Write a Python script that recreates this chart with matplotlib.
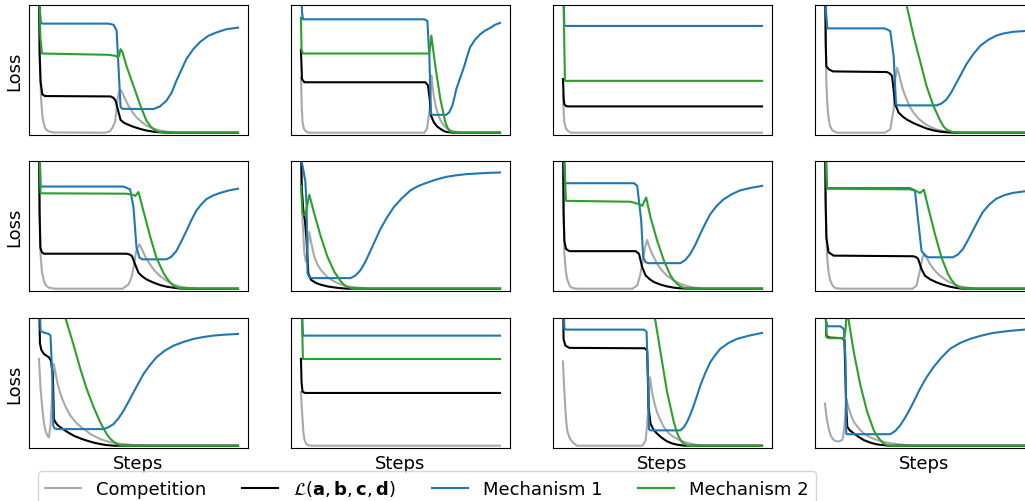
import matplotlib
matplotlib.use("Agg")
import matplotlib.pyplot as plt

# each curve: (step, loss) pairs, step 0..100, loss scaled so top of panel = 1

# panel 1
p1_comp = [(0, 1.3), (0.3, 0.8), (0.6, 0.5), (1, 0.29), (1.5, 0.17), (2, 0.1), (3, 0.04), (4, 0.02), (5, 0.01),
           (7, 0.002), (33, 0), (35.5, 0.01), (37, 0.04), (38.3, 0.09), (39.5, 0.263), (40.2, 0.32), (40.8, 0.336),
           (41.5, 0.325), (42.5, 0.29), (43.7, 0.25), (45, 0.21), (47, 0.16), (49, 0.12), (51.5, 0.085), (54, 0.055),
           (57.5, 0.032), (61, 0.016), (65, 0.006), (70, 0), (100, 0)]
p1_loss = [(0, 1.3), (0.3, 0.63), (0.8, 0.4), (1.7, 0.3), (3, 0.287), (36, 0.284), (37.5, 0.272), (38.5, 0.25),
           (40, 0.159), (41, 0.1), (42.5, 0.08), (44, 0.068), (47.5, 0.046), (51, 0.029), (54, 0.017), (57.5, 0.008),
           (61, 0.003), (65, 0), (100, 0)]
p1_mech1 = [(0, 1.3), (0.5, 0.95), (1, 0.86), (2, 0.854), (35, 0.854), (37.5, 0.845), (39, 0.8), (40, 0.5), (41, 0.2),
            (42, 0.187), (57.5, 0.185), (60.8, 0.206), (64, 0.25), (66.7, 0.315), (69, 0.406), (71.7, 0.497),
            (74, 0.575), (77.5, 0.654), (81, 0.711), (85, 0.758), (89, 0.784), (94, 0.81), (100, 0.823)]
p1_mech2 = [(0, 1.3), (0.7, 0.75), (1.5, 0.62), (35, 0.61), (39, 0.6), (39.5, 0.588), (40.2, 0.6), (41, 0.654),
            (42, 0.63), (44, 0.52), (47.5, 0.367), (51, 0.21), (54, 0.094), (56, 0.05), (57.5, 0.03), (59, 0.014),
            (61, 0.005), (65, 0), (100, 0)]

# panel 2
p2_comp = [(0, 0.43), (0.4, 0.2), (0.8, 0.083), (1.5, 0.03), (2.5, 0.01), (4, 0), (62, 0), (63.3, 0.03),
           (64.7, 0.187), (65.5, 0.447), (66, 0.38), (66.7, 0.29), (67.8, 0.2), (69, 0.135), (70.7, 0.08),
           (72.5, 0.044), (74.5, 0.022), (76.7, 0.01), (80, 0), (100, 0)]
p2_loss = [(0, 0.65), (0.5, 0.42), (1.7, 0.395), (62.5, 0.395), (63.8, 0.37), (64.7, 0.26), (65.3, 0.135),
           (66.7, 0.083), (68.3, 0.05), (70, 0.03), (71.7, 0.014), (73.3, 0.005), (77, 0), (100, 0)]
p2_mech1 = [(0, 1.3), (0.5, 0.95), (1, 0.888), (62, 0.888), (63.5, 0.875), (64.5, 0.6), (65.3, 0.148), (66, 0.14),
            (73, 0.14), (74.5, 0.16), (76, 0.21), (77, 0.27), (78, 0.34), (80, 0.43), (82, 0.52), (83.5, 0.6),
            (85, 0.67), (87.5, 0.73), (90, 0.77), (92.5, 0.8), (95, 0.82), (97.5, 0.845), (100, 0.86)]
p2_mech2 = [(0, 0.9), (0.3, 0.65), (1, 0.62), (64.5, 0.62), (65.5, 0.76), (67.5, 0.52), (70, 0.265), (72.5, 0.083),
            (73.7, 0.035), (75, 0.01), (78, 0), (100, 0)]

# panel 3
p3_comp = [(0, 0.3), (0.4, 0.15), (0.7, 0.08), (1.5, 0.035), (2.3, 0.016), (4, 0.0), (100, 0)]
p3_loss = [(0, 0.42), (0.4, 0.26), (0.7, 0.224), (1.3, 0.211), (2.3, 0.206), (100, 0.206)]
p3_mech1 = [(0, 1.3), (0.7, 0.836), (100, 0.836)]
p3_mech2 = [(0, 1.3), (1, 0.406), (100, 0.406)]

# panel 4
p4_comp = [(0, 1.3), (0.4, 0.7), (0.7, 0.392), (1.2, 0.22), (1.7, 0.131), (2.5, 0.055), (3.7, 0.018), (6, 0),
           (30, 0), (32.8, 0.026), (34.5, 0.183), (35.3, 0.418), (36.2, 0.509), (37, 0.47), (37.8, 0.418),
           (39.3, 0.33), (41, 0.261), (42.7, 0.2), (44.5, 0.157), (47, 0.11), (49.5, 0.078), (52.5, 0.048),
           (56, 0.026), (60, 0.012), (64.5, 0.005), (70, 0), (100, 0)]
p4_loss = [(0, 1.3), (0.4, 0.7), (0.7, 0.52), (2, 0.496), (4, 0.48), (31, 0.475), (32.5, 0.465), (33.7, 0.444),
           (35.3, 0.222), (37, 0.157), (39, 0.127), (41, 0.104), (44.5, 0.075), (48, 0.052), (51, 0.033),
           (54.5, 0.018), (58, 0.008), (61, 0.003), (65, 0), (100, 0)]
p4_mech1 = [(0, 1.3), (0.5, 0.95), (1.2, 0.817), (30, 0.817), (32.8, 0.796), (34.5, 0.6), (35.7, 0.222), (37, 0.214),
            (56, 0.214), (58.5, 0.228), (61, 0.26), (63.5, 0.317), (66, 0.39), (68.5, 0.462), (71, 0.535),
            (74.5, 0.615), (78, 0.68), (82, 0.727), (86, 0.76), (90, 0.778), (94.5, 0.79), (100, 0.796)]
p4_mech2 = [(0, 4.0), (30, 1.8), (41, 1.0), (44.5, 0.757), (48, 0.548), (51, 0.366), (54.5, 0.209), (58, 0.091),
            (59.5, 0.05), (61, 0.026), (62.7, 0.012), (64.5, 0.005), (68, 0), (100, 0)]

# panel 5
p5_comp = [(0, 1.3), (0.4, 0.6), (0.8, 0.27), (1.5, 0.13), (2.5, 0.06), (3.5, 0.025), (5, 0.008), (8, 0), (42, 0),
           (45, 0.034), (46.5, 0.09), (47.5, 0.164), (48.8, 0.295), (50.5, 0.347), (51.5, 0.315), (52.5, 0.282),
           (54, 0.235), (55.8, 0.191), (58, 0.143), (60.8, 0.1), (64, 0.062), (67.5, 0.034), (71, 0.016),
           (74, 0.008), (80, 0), (100, 0)]
p5_loss = [(0, 1.3), (0.3, 0.6), (0.7, 0.321), (1.5, 0.285), (2.5, 0.274), (44, 0.274), (45.5, 0.268),
           (46.7, 0.256), (48.3, 0.19), (50, 0.125), (52, 0.095), (54, 0.073), (57.5, 0.048), (60.8, 0.029),
           (64, 0.016), (67.5, 0.008), (72, 0), (100, 0)]
p5_mech1 = [(0, 1.3), (0.8, 0.8), (42.5, 0.8), (45.8, 0.778), (47.5, 0.635), (49, 0.322), (50.5, 0.243), (52, 0.23),
            (64, 0.23), (66.5, 0.25), (69, 0.295), (71.5, 0.37), (74, 0.45), (76.5, 0.535), (79, 0.61),
            (81.5, 0.66), (84, 0.7), (87.5, 0.73), (91, 0.75), (95.5, 0.77), (100, 0.783)]
p5_mech2 = [(0, 1.3), (0.8, 0.747), (44, 0.744), (47.5, 0.734), (48.3, 0.726), (50, 0.757), (52.5, 0.608), (56, 0.4),
            (59, 0.243), (62.5, 0.125), (64.3, 0.08), (66, 0.047), (67.5, 0.025), (69, 0.013), (72, 0), (100, 0)]

# panel 6
p6_comp = [(0, 1.3), (0.8, 0.535), (1.7, 0.277), (2.5, 0.212), (3.3, 0.3), (4.2, 0.444), (5, 0.37), (6.7, 0.25),
           (8.3, 0.19), (10, 0.147), (13.3, 0.09), (16.7, 0.057), (20, 0.033), (23.3, 0.018), (30, 0.005), (35, 0),
           (100, 0)]
p6_loss = [(0, 1.3), (0.3, 0.8), (1.2, 0.612), (2, 0.535), (2.8, 0.38), (3.7, 0.12), (5, 0.07), (7.5, 0.045),
           (10, 0.031), (13.3, 0.018), (16.7, 0.01), (20, 0.004), (23.3, 0), (100, 0)]
p6_mech1 = [(0, 1.3), (0.3, 1.0), (1.3, 0.92), (2.2, 0.84), (2.8, 0.66), (3.3, 0.12), (4.2, 0.09), (5.5, 0.083),
            (25, 0.083), (27.5, 0.105), (30, 0.147), (32.5, 0.215), (35, 0.3), (37.5, 0.385), (40, 0.47),
            (43.3, 0.56), (46.7, 0.64), (50.8, 0.71), (55, 0.77), (59, 0.805), (63.3, 0.83), (68, 0.855),
            (73, 0.876), (78, 0.888), (83, 0.897), (91.5, 0.905), (100, 0.91)]
p6_mech2 = [(0, 0.806), (0.8, 0.587), (2.2, 0.574), (4.2, 0.736), (6.7, 0.587), (10, 0.406), (13.3, 0.25),
            (16.7, 0.134), (20, 0.057), (21.7, 0.03), (23.3, 0.013), (26.7, 0), (100, 0)]

# panel 7
p7_comp = [(0, 1.3), (0.4, 0.6), (0.7, 0.273), (1.5, 0.13), (2.3, 0.065), (3.5, 0.02), (4.8, 0.005), (7, 0),
           (35, 0), (37.3, 0.026), (38.7, 0.1), (39.8, 0.195), (41.5, 0.338), (42.3, 0.382), (43.3, 0.33),
           (44.8, 0.273), (47, 0.205), (49, 0.156), (52.3, 0.1), (55.7, 0.065), (59, 0.038), (62.3, 0.021),
           (66, 0.008), (70, 0), (100, 0)]
p7_loss = [(0, 1.3), (0.3, 0.6), (0.7, 0.377), (1.5, 0.312), (3.2, 0.294), (36.5, 0.294), (38.2, 0.273),
           (39.8, 0.169), (41.5, 0.104), (43.5, 0.075), (45.7, 0.052), (49, 0.032), (52.3, 0.018), (55.7, 0.008),
           (59, 0.003), (63, 0), (100, 0)]
p7_mech1 = [(0, 1.3), (1, 0.826), (35.7, 0.826), (37.3, 0.805), (39.3, 0.535), (40.3, 0.247), (41.5, 0.208), (43, 0.2),
            (59, 0.2), (61.5, 0.225), (64, 0.273), (66.5, 0.345), (69, 0.43), (71.5, 0.51), (74, 0.584),
            (77.3, 0.65), (80.7, 0.7), (84.8, 0.74), (89, 0.77), (94.5, 0.79), (100, 0.805)]
p7_mech2 = [(0, 1.3), (1.5, 0.688), (34, 0.681), (38.2, 0.662), (39.8, 0.649), (41.8, 0.714), (44, 0.558),
            (47.3, 0.377), (50.7, 0.22), (54, 0.104), (55.7, 0.065), (57.3, 0.039), (59, 0.018), (60.7, 0.008),
            (64, 0), (100, 0)]

# panel 8
p8_comp = [(0, 1.3), (0.5, 0.6), (1, 0.272), (1.8, 0.13), (2.7, 0.063), (4, 0.02), (5.2, 0.005), (8, 0), (44, 0),
           (46, 0.024), (47.7, 0.141), (49, 0.246), (50.2, 0.272), (51.3, 0.235), (52.7, 0.194), (55, 0.145),
           (57.7, 0.102), (61, 0.065), (64.3, 0.037), (67.7, 0.02), (71, 0.01), (76, 0), (100, 0)]
p8_loss = [(0, 1.3), (0.3, 0.7), (0.7, 0.403), (1.8, 0.285), (4.3, 0.259), (44.3, 0.254), (45.7, 0.248),
           (46.8, 0.233), (48.5, 0.154), (50.2, 0.102), (53, 0.072), (56, 0.05), (59.3, 0.031), (62.7, 0.016),
           (66, 0.006), (69.3, 0), (100, 0)]
p8_mech1 = [(0, 1.3), (1, 0.788), (42.7, 0.788), (45.2, 0.77), (46.8, 0.534), (48.5, 0.298), (50.2, 0.259), (52, 0.246),
            (64.3, 0.246), (66.8, 0.268), (69.3, 0.31), (71.8, 0.38), (74.3, 0.455), (76.8, 0.53), (79.3, 0.6),
            (82.6, 0.66), (86, 0.704), (90, 0.732), (94.3, 0.75), (100, 0.762)]
p8_mech2 = [(0, 1.3), (1, 0.783), (42.7, 0.778), (46, 0.764), (47.7, 0.749), (49.7, 0.775), (51.8, 0.64), (55.2, 0.43),
            (58.5, 0.246), (61.8, 0.115), (63.5, 0.07), (65.2, 0.037), (66.8, 0.015), (68.5, 0.005), (72, 0), (100, 0)]

# panel 9
p9_comp = [(0, 0.68), (0.8, 0.45), (1.7, 0.287), (2.5, 0.18), (3.3, 0.117), (4.2, 0.08), (5, 0.065), (5.8, 0.157),
           (6.7, 0.418), (7.5, 0.64), (8.3, 0.57), (9.2, 0.496), (10.4, 0.425), (11.7, 0.366), (13.7, 0.295),
           (15.8, 0.235), (19, 0.175), (22.5, 0.13), (26.5, 0.085), (30.8, 0.052), (35, 0.031), (39.2, 0.018),
           (47.5, 0.005), (55, 0), (100, 0)]
p9_loss = [(0, 1.3), (0.3, 0.96), (0.5, 0.8), (1.2, 0.75), (2.5, 0.718), (5, 0.692), (6, 0.666), (7, 0.548),
           (7.5, 0.209), (8.3, 0.183), (9.5, 0.16), (10.8, 0.144), (14, 0.11), (17.5, 0.078), (21, 0.056),
           (24.2, 0.039), (27.5, 0.024), (30.8, 0.013), (34, 0.005), (37.5, 0), (100, 0)]
p9_mech1 = [(0, 1.3), (0.8, 0.9), (2, 0.888), (5, 0.875), (5.8, 0.862), (6.7, 0.548), (7.2, 0.157), (7.8, 0.136),
            (9, 0.13), (32.5, 0.13), (35, 0.145), (37.5, 0.17), (40, 0.215), (42.5, 0.274), (45, 0.345),
            (47.5, 0.418), (50, 0.49), (52.5, 0.561), (55.7, 0.63), (59, 0.692), (63, 0.742), (67.5, 0.783),
            (72.5, 0.812), (77.5, 0.836), (82.5, 0.851), (87.5, 0.862), (93.7, 0.87), (100, 0.875)]
p9_mech2 = [(0, 1.75), (13.3, 1.0), (17.5, 0.783), (20.8, 0.6), (24, 0.444), (27.5, 0.3), (30.8, 0.183), (34, 0.091),
            (35.8, 0.055), (37.5, 0.031), (39.2, 0.014), (40.8, 0.005), (44, 0), (100, 0)]

# panel 10
p10_comp = [(0, 0.42), (0.4, 0.3), (0.8, 0.209), (1.2, 0.11), (1.7, 0.052), (2.5, 0.018), (3.3, 0.005), (5, 0),
            (100, 0)]
p10_loss = [(0, 0.68), (0.3, 0.496), (0.8, 0.423), (1.5, 0.416), (2.5, 0.413), (100, 0.413)]
p10_mech1 = [(0, 1.3), (1, 0.862), (100, 0.862)]
p10_mech2 = [(0, 1.3), (1, 0.679), (100, 0.679)]

# panel 11
p11_comp = [(0, 0.66), (0.6, 0.45), (1.2, 0.289), (1.7, 0.18), (2.3, 0.107), (3.5, 0.055), (4.8, 0.029), (7, 0),
            (40, 0), (41.5, 0.042), (42.2, 0.15), (42.8, 0.289), (43.7, 0.536), (44.8, 0.417), (46, 0.33),
            (47.3, 0.26), (49, 0.2), (50.7, 0.146), (53, 0.1), (55.7, 0.068), (59, 0.04), (62.3, 0.023),
            (66, 0.01), (70, 0), (100, 0)]
p11_loss = [(0, 1.3), (0.3, 0.836), (1.2, 0.784), (3.2, 0.766), (41, 0.763), (42.3, 0.745), (43, 0.3), (44, 0.172),
            (45.5, 0.125), (47.3, 0.094), (49.8, 0.06), (52.3, 0.034), (54.8, 0.018), (57.3, 0.008), (61, 0),
            (100, 0)]
p11_mech1 = [(0, 1.3), (0.7, 0.914), (2, 0.909), (40.7, 0.909), (42, 0.893), (42.7, 0.55), (43.2, 0.128), (44, 0.12),
             (59, 0.12), (60.7, 0.145), (62.3, 0.185), (64, 0.245), (65.7, 0.315), (67.3, 0.39), (69, 0.471),
             (71.5, 0.57), (74, 0.654), (76.5, 0.71), (79, 0.758), (83, 0.803), (87.3, 0.836), (93.5, 0.862),
             (100, 0.883)]
p11_mech2 = [(0, 5.5), (46.2, 1.0), (49, 0.732), (52.3, 0.42), (55.7, 0.185), (57, 0.115), (58.2, 0.068),
             (59.5, 0.035), (60.7, 0.016), (63, 0), (100, 0)]

# panel 12
p12_comp = [(0, 0.33), (0.6, 0.25), (1.2, 0.187), (2, 0.125), (2.8, 0.083), (4, 0.05), (5.3, 0.036), (7, 0.034),
            (8.7, 0.044), (9.3, 0.09), (9.8, 0.161), (10.7, 0.369), (11.3, 0.33), (12, 0.291), (13.2, 0.235),
            (14.5, 0.187), (17, 0.135), (19.5, 0.096), (22.8, 0.065), (26.2, 0.044), (30.3, 0.027), (34.5, 0.016),
            (40, 0.006), (45, 0), (100, 0)]
p12_loss = [(0, 1.3), (0.7, 0.862), (2, 0.847), (8.7, 0.842), (9.8, 0.826), (10.7, 0.3), (11.2, 0.148),
            (12.5, 0.12), (14.5, 0.096), (17, 0.068), (19.5, 0.044), (22.8, 0.024), (26.2, 0.01), (32, 0), (100, 0)]
p12_mech1 = [(0, 1.3), (0.3, 1.0), (1.2, 0.935), (7.8, 0.935), (9.5, 0.914), (10.3, 0.68), (10.7, 0.093),
             (11.5, 0.09), (32.8, 0.09), (35.3, 0.115), (37.8, 0.16), (40.3, 0.22), (42.8, 0.29), (45.3, 0.368),
             (47.8, 0.447), (51, 0.535), (54.5, 0.615), (58.5, 0.69), (62.8, 0.758), (67.8, 0.804), (72.8, 0.836),
             (78.5, 0.862), (84.5, 0.883), (92, 0.898), (100, 0.909)]
p12_mech2 = [(0, 1.3), (0.7, 0.85), (2, 0.842), (8.7, 0.842), (9.5, 0.836), (10.3, 0.9), (11.3, 1.15), (11.7, 1.0),
             (14.5, 0.732), (17.8, 0.473), (21.2, 0.265), (24.5, 0.122), (26.2, 0.075), (27.8, 0.044), (29.5, 0.018),
             (31.2, 0.005), (34, 0), (100, 0)]

labels = ["Competition", r"$\mathcal{L}(\mathbf{a}, \mathbf{b}, \mathbf{c}, \mathbf{d})$",
          "Mechanism 1", "Mechanism 2"]
colors = ["darkgray", "black", "tab:blue", "tab:green"]

panels = [
    (p1_comp, p1_loss, p1_mech1, p1_mech2),
    (p2_comp, p2_loss, p2_mech1, p2_mech2),
    (p3_comp, p3_loss, p3_mech1, p3_mech2),
    (p4_comp, p4_loss, p4_mech1, p4_mech2),
    (p5_comp, p5_loss, p5_mech1, p5_mech2),
    (p6_comp, p6_loss, p6_mech1, p6_mech2),
    (p7_comp, p7_loss, p7_mech1, p7_mech2),
    (p8_comp, p8_loss, p8_mech1, p8_mech2),
    (p9_comp, p9_loss, p9_mech1, p9_mech2),
    (p10_comp, p10_loss, p10_mech1, p10_mech2),
    (p11_comp, p11_loss, p11_mech1, p11_mech2),
    (p12_comp, p12_loss, p12_mech1, p12_mech2),
]

W, H = 1025, 502
fig = plt.figure(figsize=(W / 100, H / 100), dpi=100)

col_left = [29, 291, 553, 815]
row_top = [6, 162, 319]
ax_w, ax_h = 219, 130

handles = []
for i, curves in enumerate(panels):
    r, c = divmod(i, 4)
    ax = fig.add_axes([col_left[c] / W, 1 - (row_top[r] + ax_h) / H, ax_w / W, ax_h / H])
    for pts, col, lab in zip(curves, colors, labels):
        xs = [p[0] for p in pts]
        ys = [p[1] for p in pts]
        ln, = ax.plot(xs, ys, color=col, lw=1.5, label=lab, solid_joinstyle="round")
        if i == 0:
            handles.append(ln)
    ax.set_xlim(-5, 105)
    ax.set_ylim(-0.018, 1.0)
    ax.set_xticks([])
    ax.set_yticks([])
    if c == 0:
        ax.set_ylabel("Loss", fontsize=13)
    if r == 2:
        ax.set_xlabel("Steps", fontsize=13)

fig.legend(handles=handles, labels=labels, ncol=4, fontsize=13, loc="upper left",
           bbox_to_anchor=(38 / W, 1 - 472 / H), borderaxespad=0)

fig.savefig("out.png", dpi=100)
